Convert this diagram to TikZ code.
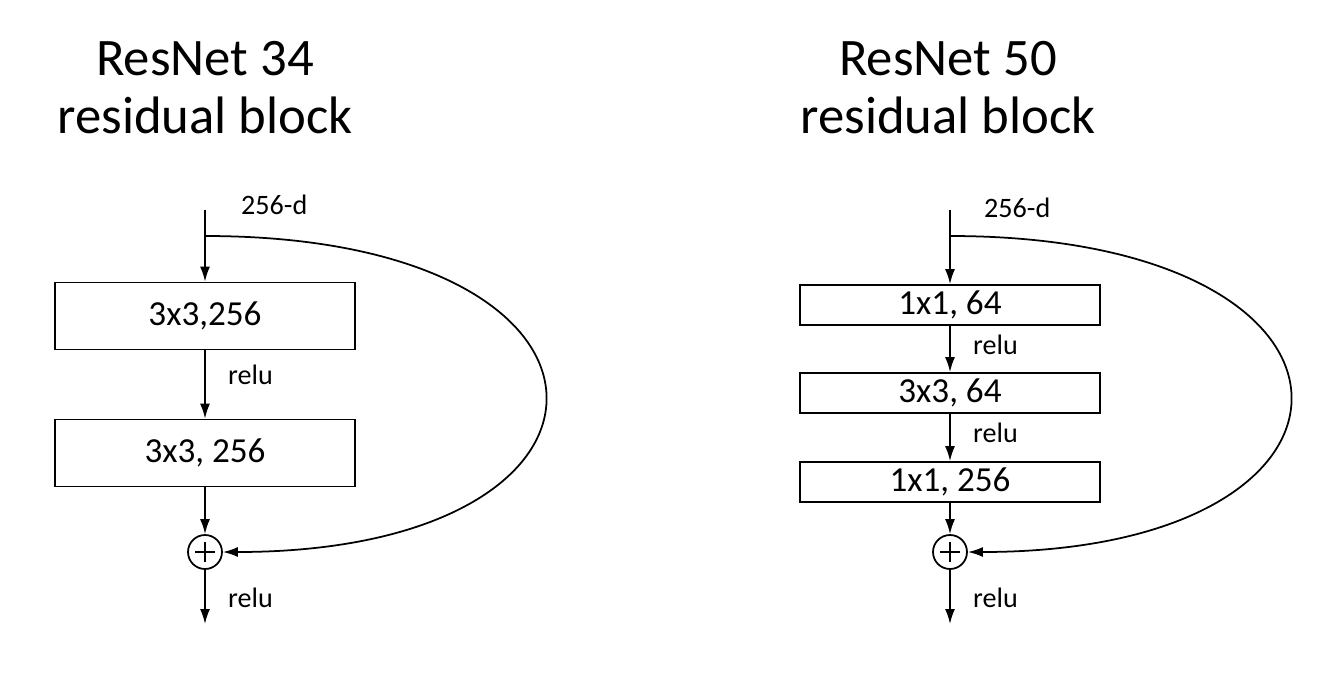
\documentclass[tikz,border=0pt]{standalone}
\usepackage{fontspec}
\setmainfont{Carlito}
\usetikzlibrary{arrows.meta}
\begin{document}
\begin{tikzpicture}[x=0.02cm,y=-0.02cm,
    layer/.style={draw,line width=1pt,minimum width=6cm,inner sep=0pt,font=\fontsize{20}{22}\selectfont},
    title/.style={align=center,font=\fontsize{30}{33}\selectfont},
    lbl/.style={font=\fontsize{16}{18}\selectfont},
    plus/.style={draw,circle,line width=1pt,minimum size=0.68cm,inner sep=0pt,font=\fontsize{24}{24}\selectfont},
    conn/.style={line width=1pt,-{Latex[length=3mm,width=2mm]}},
    ]
    \useasboundingbox (0,0) rectangle (1319,681);

    % ResNet 34
    \node[title] (t34) at (205,88) {ResNet 34\\residual block};
    \coordinate (in34) at (205,210);
    \coordinate (sp34) at (205,236);
    \node[layer,minimum height=1.34cm] (a34) at (205,316) {3x3,256};
    \node[layer,minimum height=1.34cm] (b34) at (205,453) {3x3, 256};
    \node[plus] (p34) at (205,552) {};
    \draw[line width=1pt] (205,542) -- (205,562) (195,552) -- (215,552);
    \coordinate (out34) at (205,624);
    \node[lbl,anchor=west] at (235,205) {256-d};
    \node[lbl,anchor=west] at (222,375) {relu};
    \node[lbl,anchor=west] at (222,598) {relu};
    \draw[conn] (in34) -- (a34);
    \draw[conn] (a34) -- (b34);
    \draw[conn] (b34) -- (p34);
    \draw[conn] (p34) -- (out34);
    \draw[conn] (sp34) .. controls (655,236) and (655,552) .. (p34.east);

    % ResNet 50
    \node[title] (t50) at (948,88) {ResNet 50\\residual block};
    \coordinate (in50) at (950,210);
    \coordinate (sp50) at (950,236);
    \node[layer,minimum height=0.8cm] (a50) at (950,305) {1x1, 64};
    \node[layer,minimum height=0.8cm] (b50) at (950,393) {3x3, 64};
    \node[layer,minimum height=0.8cm] (c50) at (950,482) {1x1, 256};
    \node[plus] (p50) at (950,552) {};
    \draw[line width=1pt] (950,542) -- (950,562) (940,552) -- (960,552);
    \coordinate (out50) at (950,624);
    \node[lbl,anchor=west] at (978,208) {256-d};
    \node[lbl,anchor=west] at (967,345) {relu};
    \node[lbl,anchor=west] at (967,433) {relu};
    \node[lbl,anchor=west] at (967,598) {relu};
    \draw[conn] (in50) -- (a50);
    \draw[conn] (a50) -- (b50);
    \draw[conn] (b50) -- (c50);
    \draw[conn] (c50) -- (p50);
    \draw[conn] (p50) -- (out50);
    \draw[conn] (sp50) .. controls (1400,236) and (1400,552) .. (p50.east);
\end{tikzpicture}
\end{document}
